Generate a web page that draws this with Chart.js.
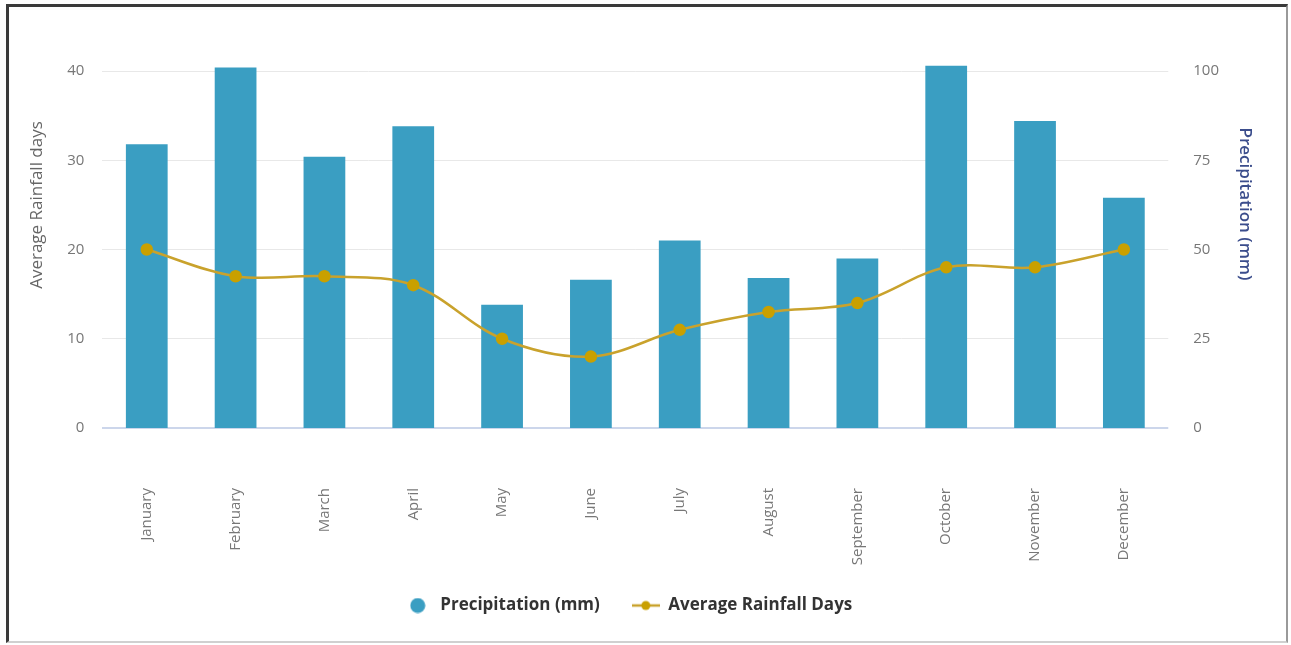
<!DOCTYPE html>
<html lang="en">
<head>
    <meta charset="UTF-8">
    <title>Precipitation and Average Rainfall Days</title>
    <script src="https://cdn.jsdelivr.net/npm/chart.js"></script>
    <style>
        body {
            margin: 0;
            padding: 0;
            background-color: #fff;
            font-family: "Open Sans", Arial, sans-serif;
        }
        .frame {
            position: absolute;
            left: 6px;
            top: 4px;
            width: 1277px;
            height: 634px;
            border-left: 3px solid #3a3a3a;
            border-top: 3px solid #3a3a3a;
            border-right: 2px solid #9a9a9a;
            border-bottom: 2px solid #d0d0d0;
        }
        .wrap {
            position: absolute;
            left: 0;
            top: 0;
            width: 1291px;
            height: 645px;
        }
    </style>
</head>
<body>
    <div class="frame"></div>
    <div class="wrap">
        <canvas id="chart"></canvas>
    </div>

    <script>
        const months = ['January', 'February', 'March', 'April', 'May', 'June',
                        'July', 'August', 'September', 'October', 'November', 'December'];
        // mm, right axis
        const precipitation = [79.5, 101, 76, 84.5, 34.5, 41.5, 52.5, 42, 47.5, 101.5, 86, 64.5];
        // days, left axis
        const rainfallDays = [20, 17, 17, 16, 10, 8, 11, 13, 14, 18, 18, 20];

        const barColor = '#3a9ec2';
        const lineColor = '#c9a22c';

        // legend marker images
        function circleMarker() {
            const c = document.createElement('canvas');
            c.width = 16; c.height = 16;
            const g = c.getContext('2d');
            g.fillStyle = barColor;
            g.beginPath();
            g.arc(8, 8, 7.5, 0, Math.PI * 2);
            g.fill();
            return c;
        }
        function lineMarker() {
            const c = document.createElement('canvas');
            c.width = 28; c.height = 12;
            const g = c.getContext('2d');
            g.strokeStyle = lineColor;
            g.lineWidth = 2.5;
            g.beginPath();
            g.moveTo(0, 6);
            g.lineTo(28, 6);
            g.stroke();
            g.fillStyle = '#c9a000';
            g.beginPath();
            g.arc(14, 6, 4.5, 0, Math.PI * 2);
            g.fill();
            return c;
        }
        const markers = [circleMarker(), lineMarker()];

        // both axis titles sit above the middle of the plot, so draw them by hand
        const axisTitles = {
            id: 'axisTitles',
            afterDraw(chart) {
                const g = chart.ctx;
                g.save();
                g.textAlign = 'center';
                g.textBaseline = 'middle';

                g.save();
                g.translate(37, 205);
                g.rotate(-Math.PI / 2);
                g.font = '17px "Open Sans"';
                g.fillStyle = '#666';
                g.fillText('Average Rainfall days', 0, 0);
                g.restore();

                g.translate(1245, 204);
                g.rotate(Math.PI / 2);
                g.font = '600 17px "Open Sans"';
                g.fillStyle = '#3b4d8c';
                g.fillText('Precipitation (mm)', 0, 0);
                g.restore();
            }
        };

        const chart = new Chart(document.getElementById('chart'), {
            data: {
                labels: months,
                datasets: [{
                    type: 'line',
                    label: 'Average Rainfall Days',
                    data: rainfallDays,
                    yAxisID: 'yDays',
                    borderColor: lineColor,
                    borderWidth: 2.5,
                    pointBackgroundColor: '#c9a000',
                    pointBorderColor: '#c9a000',
                    pointRadius: 5,
                    tension: 0.35,
                    order: 0
                }, {
                    type: 'bar',
                    label: 'Precipitation (mm)',
                    data: precipitation,
                    yAxisID: 'yMm',
                    backgroundColor: barColor,
                    categoryPercentage: 1,
                    barPercentage: 0.47,
                    clip: false,
                    order: 1
                }]
            },
            options: {
                responsive: true,
                maintainAspectRatio: false,
                animation: false,
                layout: {
                    padding: { left: 12, right: 47, top: 71, bottom: 21 }
                },
                scales: {
                    x: {
                        grid: { display: false },
                        border: { display: false },
                        afterFit(scale) { scale.height = 137; },
                        ticks: {
                            minRotation: 90,
                            maxRotation: 90,
                            padding: 52,
                            color: '#777',
                            font: { family: 'Open Sans', size: 15 }
                        }
                    },
                    yDays: {
                        position: 'left',
                        min: 0,
                        max: 40,
                        border: { display: false },
                        grid: {
                            drawTicks: false,
                            color: ctx => ctx.tick.value === 0 ? '#ccd6eb' : '#e8e8e8',
                            lineWidth: ctx => ctx.tick.value === 0 ? 2 : 1
                        },
                        ticks: {
                            stepSize: 10,
                            padding: 18,
                            color: '#777',
                            font: { family: 'Open Sans', size: 15 }
                        },
                        title: {
                            // keeps the room; the text itself is drawn by axisTitles
                            display: true,
                            text: 'Average Rainfall days',
                            color: 'transparent',
                            padding: { bottom: 14 },
                            font: { family: 'Open Sans', size: 16 }
                        }
                    },
                    yMm: {
                        position: 'right',
                        min: 0,
                        max: 100,
                        border: { display: false },
                        grid: { display: false, drawTicks: false },
                        ticks: {
                            stepSize: 25,
                            padding: 25,
                            color: '#777',
                            font: { family: 'Open Sans', size: 15 }
                        }
                    }
                },
                plugins: {
                    tooltip: { enabled: false },
                    legend: {
                        position: 'bottom',
                        labels: {
                            usePointStyle: true,
                            pointStyleWidth: 28,
                            padding: 32,
                            color: '#333',
                            font: { family: 'Open Sans', size: 17, weight: 'bold' },
                            generateLabels(chart) {
                                const items = [
                                    { text: 'Precipitation (mm)', pointStyle: markers[0], datasetIndex: 1 },
                                    { text: 'Average Rainfall Days', pointStyle: markers[1], datasetIndex: 0 }
                                ];
                                return items.map(it => ({
                                    text: it.text,
                                    pointStyle: it.pointStyle,
                                    datasetIndex: it.datasetIndex,
                                    fillStyle: 'transparent',
                                    strokeStyle: 'transparent',
                                    lineWidth: 0,
                                    fontColor: '#333',
                                    hidden: false
                                }));
                            }
                        }
                    }
                }
            },
            plugins: [axisTitles]
        });
    </script>
</body>
</html>
